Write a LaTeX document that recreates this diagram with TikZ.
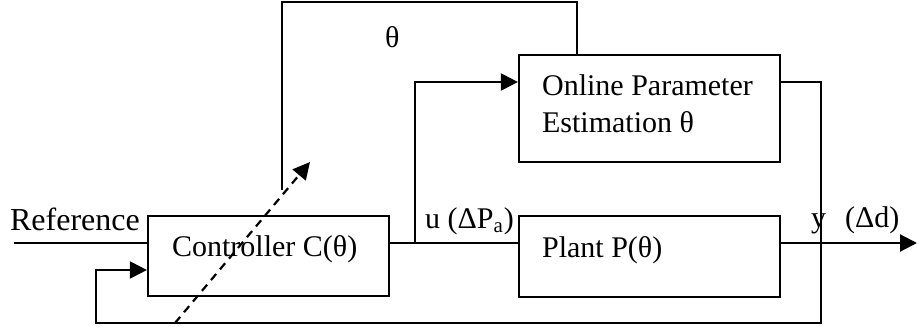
\documentclass[tikz,border=0pt]{standalone}
\usepackage{fontspec}
\setmainfont{Liberation Serif}
\usetikzlibrary{arrows.meta}
\begin{document}
\begin{tikzpicture}[x=0.5pt,y=-0.5pt, line width=1.1pt,
  blk/.style={draw, rectangle, inner sep=0pt},
  lbl/.style={inner sep=0pt, font=\fontsize{15}{18}\selectfont},
  reflbl/.style={inner sep=0pt, font=\fontsize{16}{19}\selectfont},
  arr/.style={-{Triangle[length=8.5pt,width=8.5pt]}}]
\useasboundingbox (0,0) rectangle (917,327);
% blocks
\node[blk, minimum width=120.5pt, minimum height=40pt] (ctrl) at (268.5,256) {};
\node[blk, minimum width=130.5pt, minimum height=53.5pt] (est) at (649.5,108.5) {};
\node[blk, minimum width=130.5pt, minimum height=40.5pt] (plant) at (649.5,256.5) {};
% texts
\node[lbl, anchor=base west] (ctrlt) at (171,256) {Controller C(θ)};
\node[lbl, anchor=base west] (est1) at (541,95) {Online Parameter};
\node[lbl, anchor=base west] (est2) at (541,132) {Estimation θ};
\node[lbl, anchor=base west] (plantt) at (541,257) {Plant P(θ)};
\node[reflbl, anchor=base west] (reft) at (9,230) {Reference};
\node[lbl, anchor=base west] (ut) at (424,228) {u (ΔP\textsubscript{a})};
\node[lbl, anchor=base west] (yt) at (810,227) {y};
\node[lbl, anchor=base west] (dt) at (844,227) {(Δd)};
\node[lbl, anchor=base west] (tht) at (384,47) {θ};
% coordinates
\coordinate (refin) at (14,243);
\coordinate (uj) at (415,243);
\coordinate (ej) at (415,82);
\coordinate (yj) at (821,243);
\coordinate (eo) at (821,82);
\coordinate (fbR) at (821,323);
\coordinate (fbL) at (96,323);
\coordinate (fbin) at (96,270);
\coordinate (out) at (917,243);
\coordinate (thL) at (282,2);
\coordinate (thR) at (577,2);
\coordinate (thend) at (282,190);
\coordinate (dash0) at (175,323);
\coordinate (dash1) at (310,162);
% connectors
\draw (refin) -- (refin -| ctrl.west);
\draw (uj -| ctrl.east) -- (uj -| plant.west);
\draw[arr] (uj) -- (ej) -- (ej -| est.west);
\draw[arr] (yj -| plant.east) -- (out);
\draw[arr] (eo -| est.east) -- (eo) -- (fbR) -- (fbL) -- (fbin) -- (fbin -| ctrl.west);
\draw (thR |- est.north) -- (thR) -- (thL) -- (thend);
\draw[arr, dash pattern=on 4pt off 3pt] (dash0) -- (dash1);
\end{tikzpicture}
\end{document}
